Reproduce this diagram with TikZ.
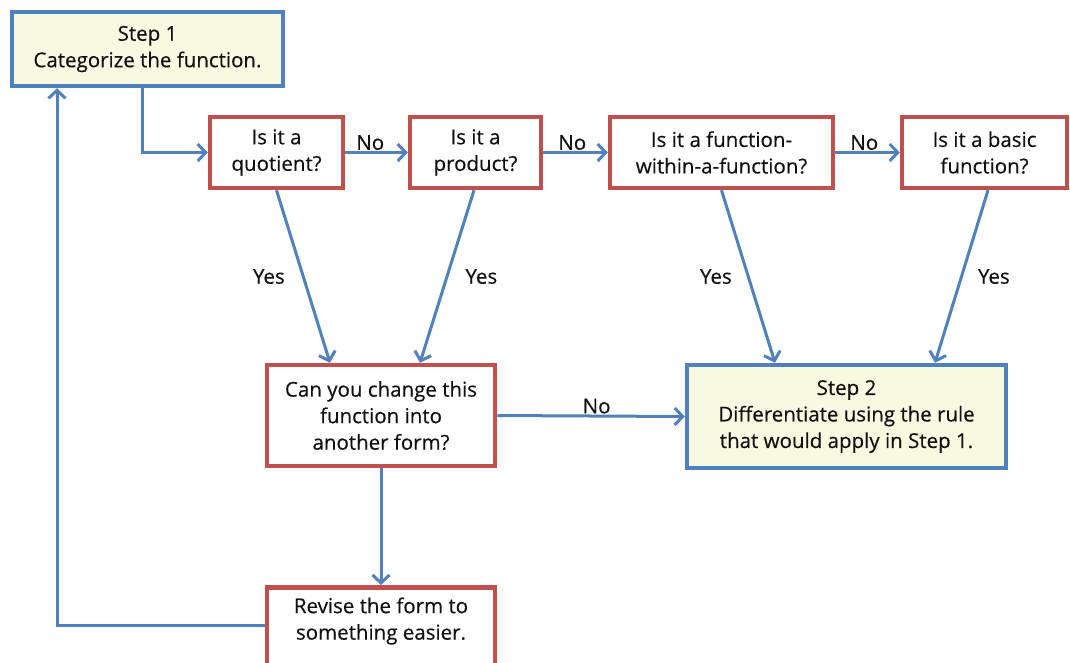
\documentclass[tikz,border=0pt]{standalone}
\usepackage{fontspec}
\setmainfont{Open Sans}[FakeBold=0.35]
\usetikzlibrary{arrows.meta,calc}
\definecolor{bblue}{HTML}{4F81BD}
\definecolor{rred}{HTML}{C0504D}
\definecolor{pyellow}{HTML}{F9F9E1}
\definecolor{txt}{HTML}{111111}
\begin{document}
\begin{tikzpicture}[x=1pt,y=-1pt,
  every node/.style={text=txt,font=\fontsize{20.5}{26.5}\selectfont},
  bluebox/.style={draw=bblue,line width=4.5pt,fill=pyellow,align=center,inner sep=0pt},
  redbox/.style={draw=rred,line width=4.5pt,fill=white,align=center,inner sep=0pt},
  conn/.style={draw=bblue,line width=3pt,-{Straight Barb[length=8pt,width=17pt,line width=3pt]}},
  lbl/.style={inner sep=1pt}]
\useasboundingbox (0,0) rectangle (1070,662);
\node[bluebox,minimum width=271pt,minimum height=74pt] (s1) at (147.5,49) {Step 1\\Categorize the function.};
\node[redbox,minimum width=133pt,minimum height=71pt] (q) at (276.5,152.5) {Is it a\\quotient?};
\node[redbox,minimum width=131pt,minimum height=71pt] (p) at (475.5,152.5) {Is it a\\product?};
\node[redbox,minimum width=223pt,minimum height=71pt] (f) at (721.5,152.5) {Is it a function-\\within-a-function?};
\node[redbox,minimum width=165pt,minimum height=71pt] (b) at (984.5,152.5) {Is it a basic\\function?};
\node[redbox,minimum width=228pt,minimum height=101pt] (c) at (381,415.5) {Can you change this\\function into\\another form?};
\node[bluebox,minimum width=319pt,minimum height=103pt] (s2) at (846.5,416.5) {Step 2\\Differentiate using the rule\\that would apply in Step 1.};
\node[redbox,minimum width=228pt,minimum height=110pt,anchor=north] (r) at (381,585) {};
\node[align=center,inner sep=0pt] (rt) at (381,621) {Revise the form to\\something easier.};
% connectors
\draw[conn] ([xshift=-5pt]s1.south) |- (q.west);
\draw[conn] (q.east) -- node[lbl,above,pos=0.4] (n1) {No} (p.west);
\draw[conn] (p.east) -- node[lbl,above,pos=0.45] (n2) {No} (f.west);
\draw[conn] (f.east) -- node[lbl,above,pos=0.45] (n3) {No} (b.west);
\draw[conn] (q.south) -- node[lbl,midway,left=16pt] (y1) {Yes} ($(c.north)+(-51,0)$);
\draw[conn] ([xshift=-1.5pt]p.south) -- node[lbl,midway,right=16pt] (y2) {Yes} ($(c.north)+(39,0)$);
\draw[conn] (f.south) -- node[lbl,midway,left=14pt] (y3) {Yes} ($(s2.north)+(-71.5,0)$);
\draw[conn] ([xshift=3.5pt]b.south) -- node[lbl,midway,right=14pt] (y4) {Yes} ($(s2.north)+(88.5,0)$);
\draw[conn] (c.east) -- node[lbl,above,pos=0.53] (n4) {No} (s2.west);
\draw[conn] (c.south) -- (r.north);
\coordinate (corner) at (57,625);
\draw[conn] (r.west |- corner) -- (corner) -- (s1.south -| corner);
\end{tikzpicture}
\end{document}
